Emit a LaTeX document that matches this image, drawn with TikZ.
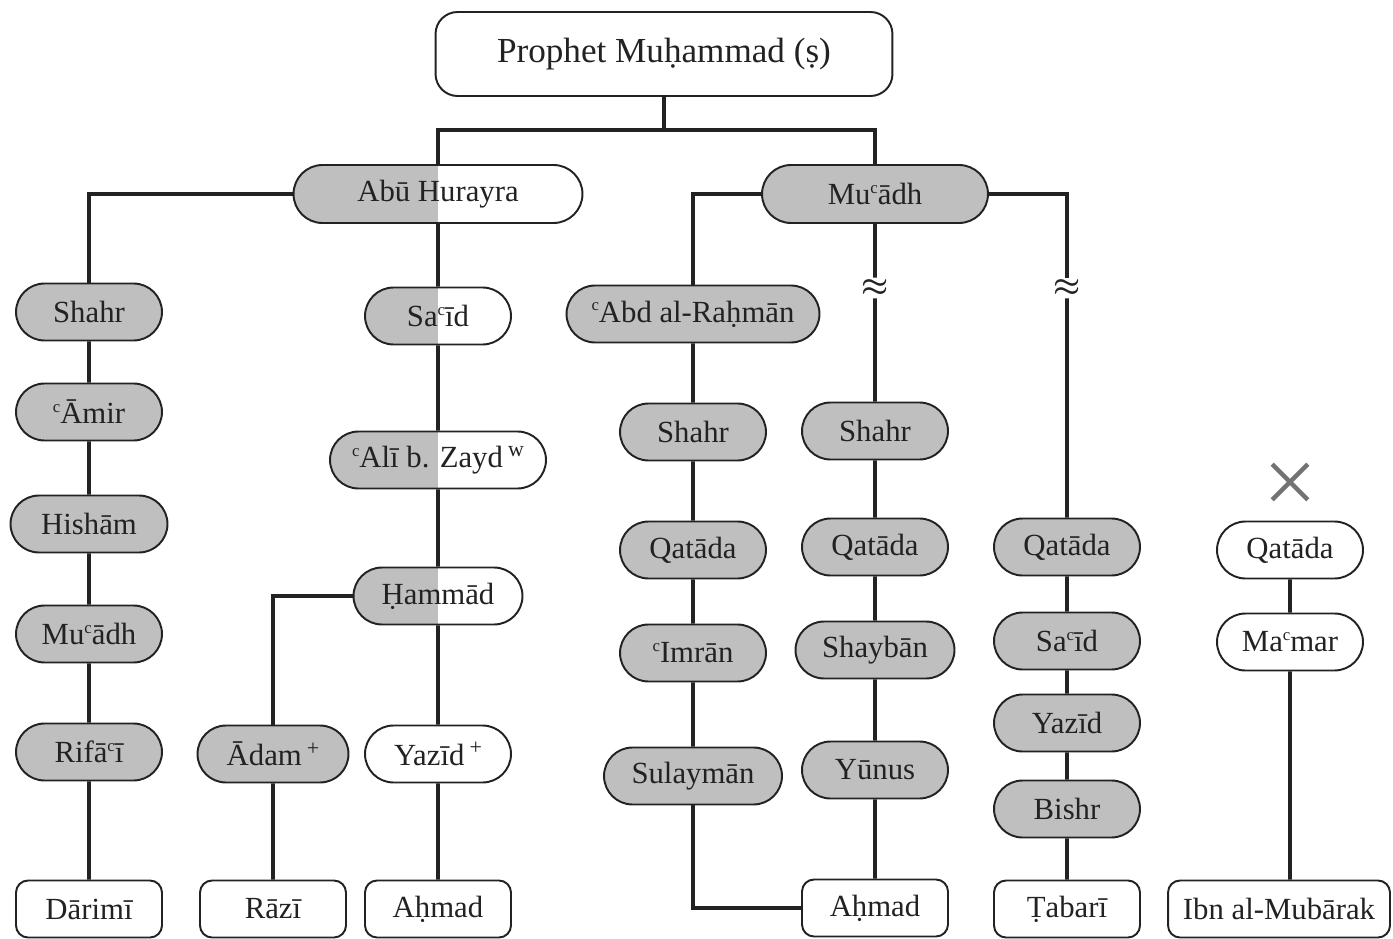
\documentclass[tikz,border=0pt]{standalone}
\usepackage{fontspec}
\setmainfont{Liberation Serif}
\usetikzlibrary{shapes.misc}
\definecolor{isnadgray}{RGB}{191,191,191}
\definecolor{inkgray}{RGB}{34,34,34}
\newcommand{\ayn}{\raisebox{0.8ex}{\fontsize{9.5}{9.5}\selectfont c}}
\newcommand{\isnadmark}[1]{\,\raisebox{0.75ex}{\fontsize{12.5}{12.5}\selectfont #1}}

\begin{document}
\begin{tikzpicture}[x=0.02cm, y=-0.02cm,
  narrator/.style={draw=inkgray, rounded rectangle, line width=1.1pt,
               minimum width=2.92cm, minimum height=1.14cm, inner sep=0pt,
               font=\fontsize{17.5}{20}\selectfont, text=inkgray, fill=isnadgray},
  halfnarrator/.style={narrator, fill=white,
               path picture={\fill[isnadgray] (path picture bounding box.south west)
               rectangle (path picture bounding box.north);}},
  opennarrator/.style={narrator, fill=white},
  collector/.style={draw=inkgray, rounded corners=0.24cm, line width=1.1pt,
               minimum width=2.92cm, minimum height=1.14cm, inner sep=0pt,
               font=\fontsize{17.5}{20}\selectfont, text=inkgray, fill=white},
  link/.style={line width=2.2pt, draw=inkgray},
  gap/.style={inner sep=1pt, font=\LARGE\boldmath, text=inkgray}
]
\useasboundingbox (0,0) rectangle (1393,939);

\node[collector, minimum width=9.14cm, minimum height=1.68cm, rounded corners=0.44cm,
      font=\fontsize{20}{24}\selectfont] (prophet) at (664,54) {Prophet Muḥammad (ṣ)};

\node[halfnarrator, minimum width=5.78cm, minimum height=1.16cm] (hurayra) at (438,194) {Abū Hurayra};
\node[narrator, minimum width=4.52cm, minimum height=1.16cm] (muadh) at (875,194) {Mu\ayn ādh};

\node[narrator] (shahrA) at (89,312) {Shahr};
\node[narrator] (amir) at (89,412) {\ayn Āmir};
\node[narrator, minimum width=3.14cm] (hisham) at (89,524) {Hishām};
\node[narrator] (muadhA) at (89,634) {Mu\ayn ādh};
\node[narrator] (rifai) at (89,752) {Rifā\ayn ī};
\node[collector] (darimi) at (89,909) {Dārimī};

\node[halfnarrator] (said) at (438,316) {Sa\ayn īd};
\node[halfnarrator, minimum width=4.32cm] (ali) at (438,460) {\ayn Alī b. Zayd\isnadmark{w}};
\node[halfnarrator, minimum width=3.38cm] (hammad) at (438,596) {Ḥammād};
\node[opennarrator] (yazidA) at (438,754) {Yazīd\isnadmark{+}};
\node[collector] (ahmadA) at (438,909) {Aḥmad};

\node[narrator, minimum width=3.02cm] (adam) at (273,754) {Ādam\isnadmark{+}};
\node[collector] (razi) at (273,909) {Rāzī};

\node[narrator, minimum width=5.06cm] (abd) at (693,314) {\ayn Abd al-Raḥmān};
\node[narrator] (shahrB) at (693,432) {Shahr};
\node[narrator] (qatadaB) at (693,550) {Qatāda};
\node[narrator] (imran) at (693,653) {\ayn Imrān};
\node[narrator, minimum width=3.56cm] (sulayman) at (693,776) {Sulaymān};

\node[gap] (breakC) at (875,288) {$\approx$};
\node[narrator] (shahrC) at (875,431) {Shahr};
\node[narrator] (qatadaC) at (875,547) {Qatāda};
\node[narrator, minimum width=3.18cm] (shayban) at (875,650) {Shaybān};
\node[narrator] (yunus) at (875,770) {Yūnus};
\node[collector] (ahmadB) at (875,908) {Aḥmad};

\node[gap] (breakD) at (1067,288) {$\approx$};
\node[narrator] (qatadaD) at (1067,547) {Qatāda};
\node[narrator] (saidD) at (1067,641) {Sa\ayn īd};
\node[narrator] (yazidD) at (1067,723) {Yazīd};
\node[narrator] (bishr) at (1067,809) {Bishr};
\node[collector] (tabari) at (1067,909) {Ṭabarī};

\node[draw=black!55, cross out, line width=2.6pt, minimum size=0.62cm, inner sep=0pt] (rejected) at (1290,482) {};
\node[opennarrator] (qatadaE) at (1290,550) {Qatāda};
\node[opennarrator] (mamar) at (1290,642) {Ma\ayn mar};
\node[collector, minimum width=4.44cm] (mubarak) at (1279,909) {Ibn al-Mubārak};

\coordinate (fork) at (664,130);
\draw[link] (prophet) -- (fork);
\draw[link] (hurayra) |- (fork) -| (muadh);

\draw[link] (hurayra) -| (shahrA);
\draw[link] (shahrA) -- (amir) -- (hisham) -- (muadhA) -- (rifai) -- (darimi);

\draw[link] (hurayra) -- (said) -- (ali) -- (hammad) -- (yazidA) -- (ahmadA);
\draw[link] (hammad) -| (adam);
\draw[link] (adam) -- (razi);

\draw[link] (muadh) -| (abd);
\draw[link] (abd) -- (shahrB) -- (qatadaB) -- (imran) -- (sulayman);
\draw[link] (sulayman) |- (ahmadB);

\draw[link] (muadh) -- (breakC) -- (shahrC) -- (qatadaC) -- (shayban) -- (yunus) -- (ahmadB);

\draw[link] (muadh) -| (breakD);
\draw[link] (breakD) -- (qatadaD) -- (saidD) -- (yazidD) -- (bishr) -- (tabari);

\draw[link] (qatadaE) -- (mamar);
\draw[link] (mamar) -- (mamar |- mubarak.north);
\end{tikzpicture}
\end{document}
